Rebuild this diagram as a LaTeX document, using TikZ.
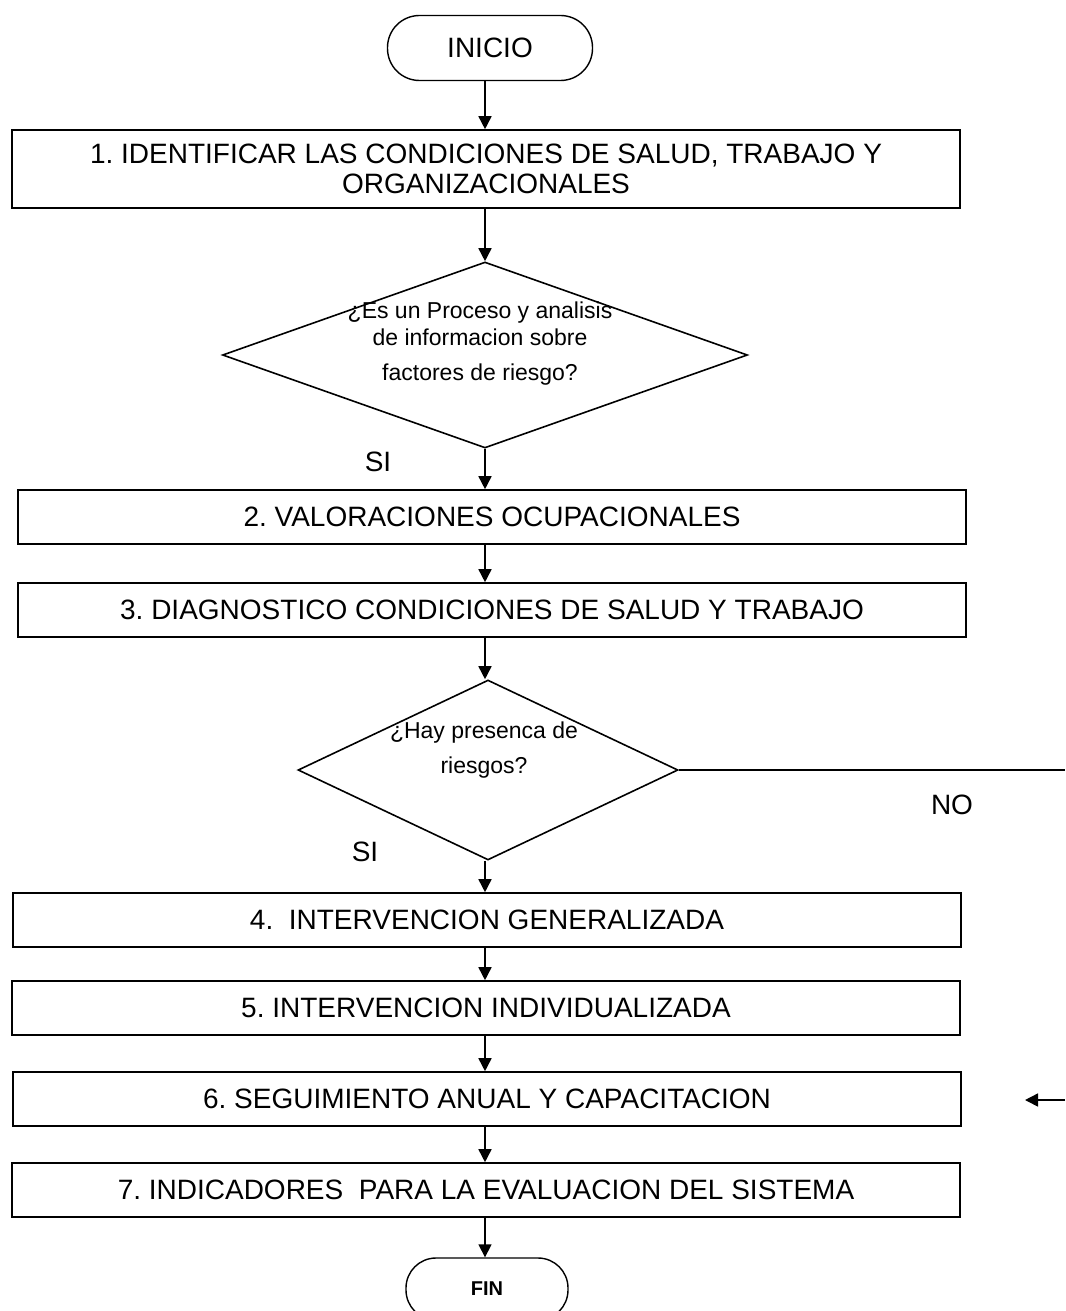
\documentclass[tikz,border=0pt]{standalone}
\usepackage{amsmath}
\usepackage{fontspec}
\setmainfont{Liberation Sans}
\usepackage{tikz}
\usetikzlibrary{shapes.geometric,arrows.meta}
\frenchspacing

\begin{document}
\begin{tikzpicture}[x=0.5pt,y=-0.5pt,
   proc/.style={draw,line width=0.8pt,minimum width=474pt,minimum height=27pt,inner sep=0pt,font=\fontsize{14}{15}\selectfont,align=center},
   term/.style={draw,line width=0.7pt,rounded corners=16pt,inner sep=0pt},
   decision/.style={draw,diamond,line width=0.8pt,inner sep=0pt},
   qtext/.style={font=\fontsize{11.5}{13.5}\selectfont,align=center},
   lbl/.style={font=\fontsize{14}{16}\selectfont},
   arr/.style={line width=0.8pt,-{Triangle[length=6.5pt,width=6.5pt]}}]
       \useasboundingbox (0,0) rectangle (1065,1311);
       \node[term,minimum width=102.5pt,minimum height=32.5pt,font=\fontsize{14}{16}\selectfont] (ini) at (490,48) {INICIO};
       \node[proc,minimum height=39pt] (b1) at (486,169) {1. IDENTIFICAR LAS CONDICIONES DE SALUD, TRABAJO Y\\ORGANIZACIONALES};
       \node[decision,minimum width=262.5pt,minimum height=93pt] (q1) at (485,355) {};
       \node[qtext] (t1) at (480,344) {¿Es un Proceso y analisis\\de informacion sobre\\[4pt]factores de riesgo?};
       \node[lbl] (si1) at (378,462) {SI};
       \node[proc] (b2) at (492,517) {2. VALORACIONES OCUPACIONALES};
       \node[proc] (b3) at (492,610) {3. DIAGNOSTICO CONDICIONES DE SALUD Y TRABAJO};
       \node[decision,minimum width=190pt,minimum height=90pt] (q2) at (488,770) {};
       \node[qtext] (t2) at (484,750) {¿Hay presenca de\\[4pt]riesgos?};
       \node[lbl] (no) at (952,805) {NO};
       \node[lbl] (si2) at (365,852) {SI};
       \node[proc] (b4) at (487,920) {4.\ \ INTERVENCION GENERALIZADA};
       \node[proc] (b5) at (486,1008) {5. INTERVENCION INDIVIDUALIZADA};
       \node[proc] (b6) at (487,1099) {6. SEGUIMIENTO ANUAL Y CAPACITACION};
       \node[proc] (b7) at (486,1190) {7. INDICADORES\ \ PARA LA EVALUACION DEL SISTEMA};
       \node[term,minimum width=81pt,minimum height=31pt,rounded corners=15pt,font=\fontsize{10}{12}\selectfont\bfseries] (fin) at (487,1289) {FIN};
       \coordinate (noend) at (1065,770); \coordinate (ret1) at (1065,1100); \coordinate (ret2) at (1025,1100);
       \draw[arr] (ini.south -| q1) -- (b1.north -| q1); \draw[arr] (b1.south -| q1) -- (q1.north);
       \draw[arr] (q1.south) -- (b2.north -| q1); \draw[arr] (b2.south -| q1) -- (b3.north -| q1);
       \draw[arr] (b3.south -| q1) -- (q2.north -| q1); \draw[line width=0.8pt] (q2.east) -- (noend);
       \draw[arr] (q2.south -| q1) -- (b4.north -| q1); \draw[arr] (b4.south -| q1) -- (b5.north -| q1);
       \draw[arr] (b5.south -| q1) -- (b6.north -| q1); \draw[arr] (b6.south -| q1) -- (b7.north -| q1);
       \draw[arr] (b7.south -| q1) -- (fin.north -| q1); \draw[arr] (ret1) -- (ret2);
\end{tikzpicture}
\end{document}
